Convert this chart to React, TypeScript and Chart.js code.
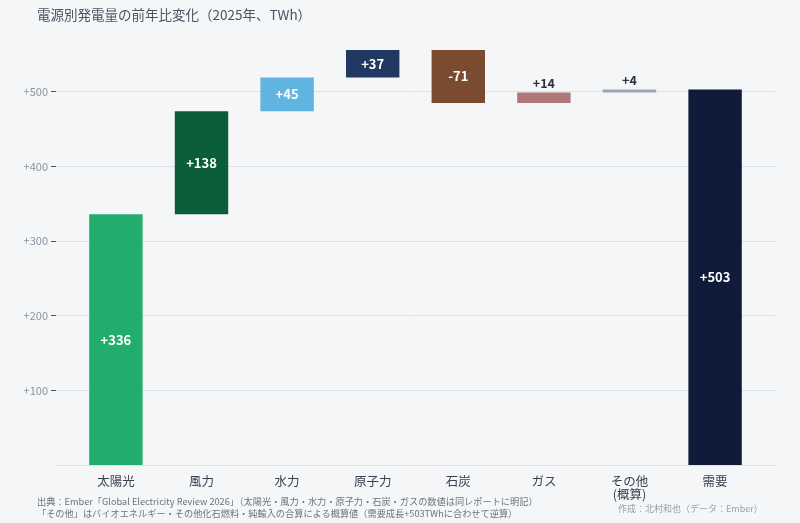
import { useEffect, useRef } from "react";
import { Chart, registerables } from "chart.js";
Chart.register(...registerables);

// categories and yearly change (TWh)
const categories: (string | string[])[] = ["太陽光", "風力", "水力", "原子力", "石炭", "ガス", ["その他", "(概算)"], "需要"];
const deltas = [336, 138, 45, 37, -71, 14, 4, 503];
const barColors = ["#22ad6c", "#0b5e3a", "#5fb4e0", "#213862", "#7a4b31", "#b0777b", "#9aa6b2", "#101a3b"];
const yTicks = [100, 200, 300, 400, 500];

const FONT = "'Noto Sans CJK JP', 'Noto Sans', sans-serif";

// waterfall: each bar floats from the running total, the last one (demand) starts at 0
function buildRanges() {
  let total = 0;
  return deltas.map((d, i) => {
    if (i === deltas.length - 1) return { x: i, y: [0, d] };
    const r = { x: i, y: [total, total + d] };
    total += d;
    return r;
  });
}

const valueLabels = {
  id: "valueLabels",
  afterDatasetsDraw(chart: any) {
    const ctx = chart.ctx;
    const meta = chart.getDatasetMeta(0);
    ctx.save();
    ctx.textAlign = "center";
    meta.data.forEach((bar: any, i: number) => {
      const { x, y, base } = bar.getProps(["x", "y", "base"], true);
      const top = Math.min(y, base);
      const bottom = Math.max(y, base);
      const d = deltas[i];
      const text = d > 0 ? `+${d}` : `${d}`;
      if (bottom - top > 20) {
        ctx.fillStyle = "#ffffff";
        ctx.font = `bold 13px ${FONT}`;
        ctx.textBaseline = "middle";
        ctx.fillText(text, x, (top + bottom) / 2);
      } else {
        ctx.fillStyle = "#2b3142";
        ctx.font = `bold 12.5px ${FONT}`;
        ctx.textBaseline = "bottom";
        ctx.fillText(text, x, top - 3);
      }
    });
    ctx.restore();
  },
};

export default function App() {
  const canvasRef = useRef<HTMLCanvasElement | null>(null);
  const chartRef = useRef<Chart | null>(null);

  useEffect(() => {
    document.body.style.margin = "0";
    document.body.style.background = "#f4f6f8";
    if (!canvasRef.current) return;
    const ctx = canvasRef.current.getContext("2d");
    if (!ctx) return;

    chartRef.current = new Chart(ctx, {
      type: "bar",
      data: {
        datasets: [
          {
            data: buildRanges() as any,
            backgroundColor: barColors,
            borderWidth: 0,
            barPercentage: 0.624,
            categoryPercentage: 1,
          },
        ],
      },
      options: {
        animation: false,
        responsive: true,
        maintainAspectRatio: false,
        layout: { padding: { top: 32, right: 25, left: 0, bottom: 0 } },
        plugins: {
          legend: { display: false },
          tooltip: { enabled: false },
        },
        scales: {
          x: {
            type: "linear",
            min: -0.7,
            max: 7.7,
            offset: false,
            afterBuildTicks: (axis: any) => {
              axis.ticks = categories.map((_, i) => ({ value: i }));
            },
            afterFit: (axis: any) => {
              axis.height = 58;
            },
            grid: { display: false, offset: false },
            border: { display: true, color: "#dde1e6" },
            ticks: {
              padding: 2,
              color: "#3a4151",
              font: { family: FONT, size: 12.5, lineHeight: 1.05 },
              callback: (v: any) => categories[Number(v)] ?? "",
              maxRotation: 0,
              autoSkip: false,
            },
          },
          y: {
            min: 0,
            max: 580,
            afterBuildTicks: (axis: any) => {
              axis.ticks = yTicks.map((v) => ({ value: v }));
            },
            afterFit: (axis: any) => {
              axis.width = 56;
            },
            grid: {
              color: "#dde1e6",
              drawTicks: true,
              tickLength: 5,
              tickColor: "#4d5463",
            },
            border: { display: false },
            ticks: {
              padding: 3,
              color: "#8b949f",
              font: { family: FONT, size: 11 },
              callback: (v: any) => `+${v}`,
            },
          },
        },
      },
      plugins: [valueLabels],
    });

    return () => {
      if (chartRef.current) chartRef.current.destroy();
    };
  }, []);

  return (
    <div style={{ position: "fixed", left: 0, top: 0, width: 800, height: 523, background: "#f4f6f8", fontFamily: FONT }}>
      <div style={{ position: "absolute", left: 0, top: 0, width: 800, height: 523 }}>
        <canvas ref={canvasRef} />
      </div>
      <div style={{ position: "absolute", left: 37, top: 4, fontSize: 13.5, color: "#4b5361", whiteSpace: "nowrap" }}>
        電源別発電量の前年比変化（2025年、TWh）
      </div>
      <div style={{ position: "absolute", left: 37, top: 495, fontSize: 9.2, lineHeight: "12px", color: "#6b7480", whiteSpace: "nowrap" }}>
        <div>出典：Ember「Global Electricity Review 2026」（太陽光・風力・水力・原子力・石炭・ガスの数値は同レポートに明記）</div>
        <div>「その他」はバイオエネルギー・その他化石燃料・純輸入の合算による概算値（需要成長+503TWhに合わせて逆算）</div>
      </div>
      <div style={{ position: "absolute", left: 618, top: 502, fontSize: 9, lineHeight: "13px", color: "#9aa1aa", whiteSpace: "nowrap" }}>
        作成：北村和也（データ：Ember）
      </div>
    </div>
  );
}
